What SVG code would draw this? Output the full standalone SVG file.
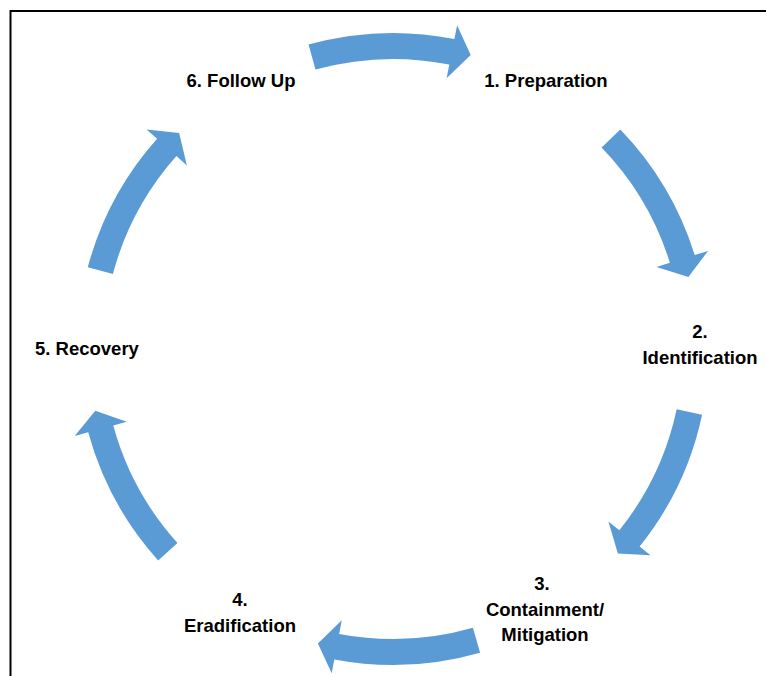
<svg xmlns="http://www.w3.org/2000/svg" xmlns:xlink="http://www.w3.org/1999/xlink" width="766" height="676" viewBox="0 0 766 676">
  <style>
    .lbl { font-family: "Liberation Sans", Arial, sans-serif; font-weight: bold; font-size: 18.5px; fill: #000; }
    .arrow { fill: #5B9BD5; }
    .frame { stroke: #000; stroke-width: 2; fill: none; }
  </style>
  <defs>
    <path id="arr" d="M316,0 A316,316 0 0 1 282.3,142.0 L294.8,148.3 L262.5,153.4 L246.6,124.0 L259.1,130.3 A290,290 0 0 0 290,0 Z"/>
  </defs>
  <rect width="766" height="676" fill="#fff"/>
  <path class="frame" d="M10.5,676 L10.5,11 L766,11"/>
  <g id="connectors" class="arrow">
    <use xlink:href="#arr" transform="translate(393,349) rotate(-105.5)"/>
    <use xlink:href="#arr" transform="translate(393,349) rotate(-44)"/>
    <use xlink:href="#arr" transform="translate(393,349) rotate(12)"/>
    <use xlink:href="#arr" transform="translate(393,349) rotate(74)"/>
    <use xlink:href="#arr" transform="translate(393,349) rotate(138)"/>
    <use xlink:href="#arr" transform="translate(393,349) rotate(195)"/>
  </g>
  <g id="n1"><text class="lbl" x="546" y="87" text-anchor="middle">1. Preparation</text></g>
  <g id="n2"><text class="lbl" text-anchor="middle"><tspan x="700" y="338">2.</tspan><tspan x="700" y="364">Identification</tspan></text></g>
  <g id="n3"><text class="lbl" text-anchor="middle"><tspan x="542" y="590">3.</tspan><tspan x="545" y="616">Containment/</tspan><tspan x="545" y="641">Mitigation</tspan></text></g>
  <g id="n4"><text class="lbl" text-anchor="middle"><tspan x="240" y="606">4.</tspan><tspan x="240" y="632">Eradification</tspan></text></g>
  <g id="n5"><text class="lbl" x="35" y="355">5. Recovery</text></g>
  <g id="n6"><text class="lbl" x="241" y="87" text-anchor="middle">6. Follow Up</text></g>
</svg>
